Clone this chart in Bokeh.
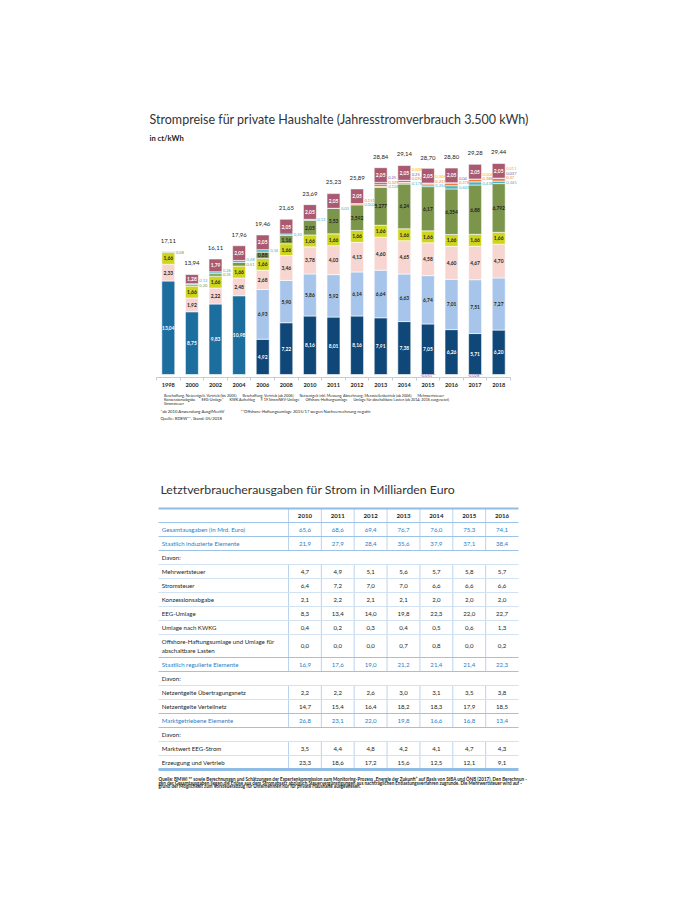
import numpy as np
from bokeh.plotting import figure
from bokeh.models import Range1d, FixedTicker, ColumnDataSource, Legend, LegendItem
from bokeh.layouts import column
from bokeh.embed import file_html
from bokeh.resources import INLINE
from bokeh.core.properties import value

# ---------------- data: household electricity price (ct/kWh) ----------------
years = ["1998", "2000", "2002", "2004", "2006", "2008", "2010", "2011", "2012",
         "2013", "2014", "2015", "2016", "2017", "2018"]
vollversorgung = [13.04, 8.75, 9.83, 10.98, 0, 0, 0, 0, 0, 0, 0, 0, 0, 0, 0]
beschaffung = [0, 0, 0, 0, 4.92, 7.22, 8.16, 8.01, 8.16, 7.91, 7.38, 7.05, 6.26, 5.71, 6.20]
netzentgelt = [0, 0, 0, 0, 6.93, 5.90, 5.86, 5.92, 6.14, 6.64, 6.63, 6.74, 7.01, 7.51, 7.27]
mehrwertsteuer = [2.33, 1.92, 2.22, 2.48, 2.68, 3.46, 3.78, 4.03, 4.13, 4.60, 4.65, 4.58, 4.60, 4.67, 4.70]
konzession = [1.66] * 15
eeg = [0.08, 0.20, 0.35, 0.51, 0.88, 1.16, 2.05, 3.53, 3.592, 5.277, 6.24, 6.17, 6.354, 6.88, 6.792]
kwk = [0, 0.13, 0.26, 0.28, 0.34, 0.20, 0.13, 0.03, 0.002, 0.126, 0.178, 0.254, 0.445, 0.438, 0.345]
stromnev = [0, 0, 0, 0, 0, 0, 0, 0, 0.151, 0.329, 0.092, 0.237, 0.378, 0.388, 0.370]
offshore = [0, 0, 0, 0, 0, 0, 0, 0, 0, 0.25, 0.25, -0.051, 0.040, -0.028, 0.037]
abschaltbar = [0, 0, 0, 0, 0, 0, 0, 0, 0, 0, 0.009, 0.006, 0.0, 0.006, 0.011]
stromsteuer = [0, 1.28, 1.79, 2.05, 2.05, 2.05, 2.05, 2.05, 2.05, 2.05, 2.05, 2.05, 2.05, 2.05, 2.05]
totals = [17.11, 13.94, 16.11, 17.96, 19.46, 21.65, 23.69, 25.23, 25.89, 28.84, 29.14, 28.70, 28.80, 29.28, 29.44]

# ---------------- data: table (Mrd. Euro) ----------------
tbl_years = ["2010", "2011", "2012", "2013", "2014", "2015", "2016"]
gesamt = [65.6, 68.6, 69.4, 76.7, 76.0, 75.3, 74.1]
staatl_induziert = [21.9, 27.9, 28.4, 35.6, 37.9, 37.1, 38.4]
t_mwst = [4.7, 4.9, 5.1, 5.6, 5.7, 5.8, 5.7]
t_stromsteuer = [6.4, 7.2, 7.0, 7.0, 6.6, 6.6, 6.6]
t_konzession = [2.1, 2.2, 2.1, 2.1, 2.0, 2.0, 2.0]
t_eeg = [8.3, 13.4, 14.0, 19.8, 22.3, 22.0, 22.7]
t_kwkg = [0.4, 0.2, 0.3, 0.4, 0.5, 0.6, 1.3]
t_offshore = [0.0, 0.0, 0.0, 0.7, 0.8, 0.0, 0.2]
staatl_reguliert = [16.9, 17.6, 19.0, 21.2, 21.4, 21.4, 22.3]
t_uebertragung = [2.2, 2.2, 2.6, 3.0, 3.1, 3.5, 3.8]
t_verteil = [14.7, 15.4, 16.4, 18.2, 18.3, 17.9, 18.5]
marktgetrieben = [26.8, 23.1, 22.0, 19.8, 16.6, 16.8, 13.4]
t_marktwert = [3.5, 4.4, 4.8, 4.2, 4.1, 4.7, 4.3]
t_erzeugung = [23.3, 18.6, 17.2, 15.6, 12.5, 12.1, 9.1]

FONT = "Lato"
DARK = "#231f20"
W = 684
ORG = 0                      # page position of the canvas origin (measured)
FL, FR = 136, 544            # common frame left/right on the page for every figure
BL, BR = FL - ORG, ORG + W - FR


def fmt(v, mind=2):
    s = f"{v:.3f}".rstrip("0")
    if len(s.split(".")[1]) < mind:
        s = f"{v:.{mind}f}"
    return s.replace(".", ",")


def clean(f):
    f.outline_line_color = None
    f.xgrid.grid_line_color = None
    f.ygrid.grid_line_color = None
    f.background_fill_color = "white"
    f.border_fill_color = "white"
    return f


def page_fig(y0, y1):
    """figure whose data units equal page pixels inside the common frame"""
    f = figure(width=W, height=int(y1 - y0), x_range=Range1d(FL, FR), y_range=Range1d(y1, y0),
               output_backend="svg", toolbar_location=None, x_axis_location=None, y_axis_location=None,
               min_border_left=BL, min_border_right=BR, min_border_top=0, min_border_bottom=0)
    return clean(f)


def ptext(f, x, y, text, size, style="normal", color=DARK, align="left"):
    f.text(x=[x], y=[y], text=[text], text_font=value(FONT), text_font_size=size, text_font_style=style,
           text_color=color, text_align=align, text_baseline="middle")


series = [
    ("Beschaffung, Netzentgelt, Vertrieb (bis 2005)", vollversorgung, "#1c6e9f", "white"),
    ("Beschaffung, Vertrieb (ab 2006)", beschaffung, "#0e4778", "white"),
    ("Netzentgelt inkl. Messung, Abrechnung, Messstellenbetrieb (ab 2006)", netzentgelt, "#a7c5ea", DARK),
    ("Mehrwertsteuer", mehrwertsteuer, "#f7d6d2", DARK),
    ("Konzessionsabgabe", konzession, "#cfd51c", DARK),
    ("EEG-Umlage*", eeg, "#7b964b", DARK),
    ("KWK Aufschlag", kwk, "#4cb2bf", DARK),
    ("§ 19 StromNEV-Umlage", stromnev, "#ee7a3b", DARK),
    ("Offshore-Haftungsumlage", offshore, "#7a5aa5", DARK),
    ("Umlage für abschaltbare Lasten (ab 2014; 2016 ausgesetzt)", abschaltbar, "#f6b400", DARK),
    ("Stromsteuer", stromsteuer, "#a95a70", "white"),
]

# =============== header ===============
HDR_END = 145
hdr = page_fig(ORG, HDR_END)
ptext(hdr, 149, 119, "Strompreise für private Haushalte (Jahresstromverbrauch 3.500 kWh)", "12.5px",
      color="#333333")
ptext(hdr, 149, 137, "in ct/kWh", "7.6px", style="bold")

# =============== Figure A: stacked bars ===============
n = len(years)
S = 354 / n                 # px per category
CAT_L = 156                 # page x of left edge of first category
AX_Y = 377                  # page y of axis line (frame bottom)
PXU = 7.17                  # px per ct/kWh
Y0 = -0.42
FH = AX_Y - HDR_END
A_H = FH + 15
x0 = -0.5 - (CAT_L - FL) / S
x1 = x0 + (FR - FL) / S
pA = figure(width=W, height=A_H, x_range=Range1d(x0, x1), y_range=Range1d(Y0, Y0 + FH / PXU),
            output_backend="svg", toolbar_location=None, y_axis_location=None,
            min_border_left=BL, min_border_right=BR, min_border_top=0, min_border_bottom=A_H - FH)
clean(pA)

ax = pA.xaxis[0]
ax.bounds = (-0.5, n - 0.5)
ax.ticker = FixedTicker(ticks=list(range(n)), minor_ticks=[i - 0.5 for i in range(n + 1)])
ax.major_label_overrides = {i: y for i, y in enumerate(years)}
ax.major_tick_line_color = None
ax.major_tick_out = 0
ax.major_tick_in = 0
ax.minor_tick_out = 3
ax.minor_tick_in = 0
ax.minor_tick_line_color = "#c3cdd9"
ax.axis_line_color = "#c3cdd9"
ax.axis_line_width = 1.2
ax.major_label_standoff = 2
ax.major_label_text_font = FONT
ax.major_label_text_font_style = "bold"
ax.major_label_text_font_size = "5.6px"
ax.major_label_text_color = DARK

BAR_W = 0.55
cum = np.zeros(n)
in_x, in_y, in_t, in_c = [], [], [], []
small = {i: [] for i in range(n)}
neg = []
for name, vals, col, tcol in series:
    v = np.array(vals, dtype=float)
    pos = np.clip(v, 0, None)
    bottom = cum.copy()
    top = cum + pos
    idx = [i for i in range(n) if v[i] > 0]
    src = ColumnDataSource(dict(x=idx, bottom=[bottom[i] for i in idx], top=[top[i] for i in idx]))
    pA.vbar(x="x", bottom="bottom", top="top", width=BAR_W, source=src,
            fill_color=col, line_color="white", line_width=0.6)
    for i in idx:
        if v[i] >= 0.6:
            in_x.append(i); in_y.append(bottom[i] + v[i] / 2); in_t.append(fmt(v[i])); in_c.append(tcol)
        else:
            small[i].append((bottom[i] + v[i] / 2, fmt(v[i]), col))
    for i in range(n):
        if v[i] < 0:
            neg.append((i, fmt(v[i], 3) + "**", col))
    cum = top

pA.text(x="x", y="y", text="t", text_color="c", source=ColumnDataSource(dict(x=in_x, y=in_y, t=in_t, c=in_c)),
        text_align="center", text_baseline="middle", text_font=value(FONT), text_font_style="bold",
        text_font_size="4.9px")

# small segment labels stacked on the right of the bar
sx, sy, st, sc = [], [], [], []
for i in range(n):
    prev = -1e9
    for mid, t, col in sorted(small[i]):
        ly = max(mid, prev + 0.64)
        sx.append(i + BAR_W / 2 + 0.04); sy.append(ly); st.append(t); sc.append(col)
        prev = ly
pA.text(x="x", y="y", text="t", text_color="c", source=ColumnDataSource(dict(x=sx, y=sy, t=st, c=sc)),
        text_align="left", text_baseline="middle", text_font=value(FONT), text_font_size="4.1px")

# negative values at the axis
pA.text(x=[i for i, _, _ in neg], y=[Y0 / 2] * len(neg), text=[t for _, t, _ in neg],
        text_color=[c for _, _, c in neg], text_align="center", text_baseline="middle",
        text_font=value(FONT), text_font_size="4.1px")

# totals
pA.text(x=list(range(n)), y=[t + 1.55 for t in totals], text=[fmt(t) for t in totals],
        text_align="center", text_baseline="middle", text_color=DARK, text_font=value(FONT),
        text_font_size="6px")

# =============== footer: legend + notes ===============
FT0 = HDR_END + A_H
FT1 = 480
ftr = page_fig(FT0, FT1)
sw = {}
for name, vals, col, tcol in series:
    sw[name] = ftr.vbar(x=[], top=[], width=1, fill_color=col, line_color=None)

legend_rows = [
    [series[0][0], series[1][0], series[2][0], series[3][0]],
    [series[4][0], series[5][0], series[6][0], series[7][0], series[8][0], series[9][0]],
    [series[10][0]],
]
row_py = [396, 400, 404]
for names, py in zip(legend_rows, row_py):
    lg = Legend(items=[LegendItem(label=nm, renderers=[sw[nm]]) for nm in names],
                orientation="horizontal", location=(160 - FL, int(round(FT1 - py - 2))), padding=0, margin=0,
                spacing=2, glyph_width=3, glyph_height=3, label_height=4, label_width=1, label_standoff=1,
                label_text_font=FONT, label_text_font_size="3.7px", label_text_color=DARK,
                border_line_color=None, background_fill_alpha=0)
    ftr.add_layout(lg)

ptext(ftr, 160, 411, "*ab 2010 Anwendung AusglMechV", "4.2px")
ptext(ftr, 240, 411, "**Offshore-Haftungsumlage 2015/17 wegen Nachverrechnung negativ", "4.2px")
ptext(ftr, 160, 418, "Quelle: BDEW**, Stand: 05/2018", "4.2px")

# =============== Figure B: table ===============
rows = [
    ("head", "", tbl_years),
    ("blue", "Gesamtausgaben (in Mrd. Euro)", gesamt),
    ("blue", "Staatlich induzierte Elemente", staatl_induziert),
    ("davon", "Davon:", None),
    ("norm", "Mehrwertsteuer", t_mwst),
    ("norm", "Stromsteuer", t_stromsteuer),
    ("norm", "Konzessionsabgabe", t_konzession),
    ("norm", "EEG-Umlage", t_eeg),
    ("norm", "Umlage nach KWKG", t_kwkg),
    ("norm", "Offshore-Haftungsumlage und Umlage für\nabschaltbare Lasten", t_offshore),
    ("blue", "Staatlich regulierte Elemente", staatl_reguliert),
    ("davon", "Davon:", None),
    ("norm", "Netzentgelte Übertragungsnetz", t_uebertragung),
    ("norm", "Netzentgelte Verteilnetz", t_verteil),
    ("blue", "Marktgetriebene Elemente", marktgetrieben),
    ("davon", "Davon:", None),
    ("norm", "Marktwert EEG-Strom", t_marktwert),
    ("norm", "Erzeugung und Vertrieb", t_erzeugung),
]
ROW_PX = 14
row_h = [1.0] * len(rows)
row_h[9] = 23 / ROW_PX
ncol = len(tbl_years)
CW = 230 / ncol              # px per value column
TL, TC, TT = 158, 288, 508   # table left, first value column, table top (page px)
LBL = (TC - TL) / CW
tops = np.concatenate([[0], np.cumsum(row_h)[:-1]])
bots = np.cumsum(row_h)
total_h = bots[-1]
TB0, TB1 = FT1, 800


def ux(px):
    return (px - TC) / CW


def uy(py):
    return (py - TT) / ROW_PX


pB = figure(width=W, height=TB1 - TB0, x_range=Range1d(ux(FL), ux(FR)), y_range=Range1d(uy(TB1), uy(TB0)),
            output_backend="svg", toolbar_location=None, x_axis_location=None, y_axis_location=None,
            min_border_left=BL, min_border_right=BR, min_border_top=0, min_border_bottom=0)
clean(pB)

BLUE = "#2a80c8"
lx, ly, lt, lc = [], [], [], []
vx, vy, vt, vc, vs = [], [], [], [], []
seg_x0, seg_y0, seg_x1, seg_y1 = [], [], [], []
for r, (kind, label, vals) in enumerate(rows):
    mid = (tops[r] + bots[r]) / 2
    col = BLUE if kind == "blue" else DARK
    if label:
        lx.append(-LBL + 0.1); ly.append(mid); lt.append(label); lc.append(col)
    if vals is not None:
        for c, v in enumerate(vals):
            vx.append(c + 0.5); vy.append(mid)
            vt.append(v if isinstance(v, str) else f"{v:.1f}".replace(".", ","))
            vc.append(col); vs.append("bold" if kind == "head" else "normal")
        for c in range(ncol):
            seg_x0.append(c); seg_x1.append(c); seg_y0.append(tops[r]); seg_y1.append(bots[r])

pB.segment(x0=seg_x0, y0=seg_y0, x1=seg_x1, y1=seg_y1, line_color="#b3cfec", line_width=0.9)

hy, hc, hw = [], [], []
for r in range(1, len(rows)):
    near_blue = rows[r][0] == "blue" or rows[r - 1][0] == "blue"
    hy.append(tops[r]); hc.append("#9cc2e8" if near_blue else "#cddff2"); hw.append(1.1 if near_blue else 0.9)
pB.segment(x0=[-LBL] * len(hy), x1=[ncol] * len(hy), y0=hy, y1=hy, line_color=hc, line_width=hw)
pB.segment(x0=[-LBL, -LBL], x1=[ncol, ncol], y0=[0, total_h], y1=[0, total_h], line_color="#8fbde6",
           line_width=[2, 3])

pB.text(x=lx, y=ly, text=lt, text_color=lc, text_align="left", text_baseline="middle",
        text_font=value(FONT), text_font_size="6.1px", text_line_height=1.2)
pB.text(x=vx, y=vy, text=vt, text_color=vc, text_font_style=vs, text_align="center", text_baseline="middle",
        text_font=value(FONT), text_font_size="6.1px")

pB.text(x=[ux(160)], y=[uy(489)], text=["Letztverbraucherausgaben für Strom in Milliarden Euro"],
        text_font=value(FONT), text_font_size="12.3px", text_color="#333333", text_baseline="middle")
src_lines = [
    "Quelle: BMWi ** sowie Berechnungen und Schätzungen der Expertenkommission zum Monitoring-Prozess „Energie der Zukunft“ auf Basis von StBA und ÖNB (2017). Den Berechnun -",
    "gen der Gesamtausgaben liegen die Erlöse aus dem Stromabsatz abzüglich Steuervergünstigungen aus nachträglichen Entlastungsverfahren zugrunde. Die Mehrwertsteuer wird auf -",
    "grund der Möglichkeit zum Vorsteuerabzug für Unternehmen nur für private Haushalte ausgewiesen.",
]
pB.text(x=[ux(158)] * 3, y=[uy(778.7 + 3.8 * k) for k in range(3)], text=src_lines,
        text_font=value(FONT), text_font_size="4.55px", text_font_style="bold", text_color=DARK,
        text_baseline="middle")

layout = column(hdr, pA, ftr, pB, spacing=0)
open("out.html", "w").write(file_html(layout, INLINE))
